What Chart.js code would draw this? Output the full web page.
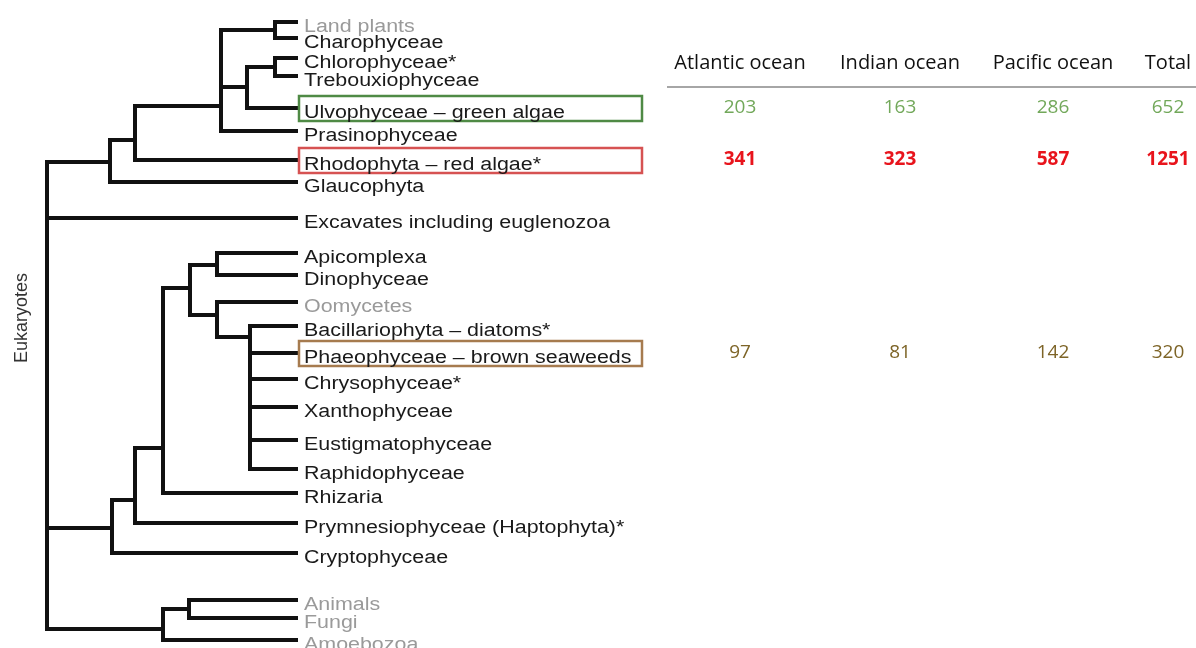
<!DOCTYPE html>
<html>
<head>
<meta charset="utf-8">
<script src="https://cdn.jsdelivr.net/npm/chart.js@4/dist/chart.umd.min.js"></script>
<style>
  html, body { margin: 0; padding: 0; background: #fff; }
  #arbre { display: block; }
</style>
</head>
<body>
<canvas id="arbre" width="1196" height="648"></canvas>
<script>
// Feuilles de l'arbre (ordre de haut en bas)
const leafNames = ['Land plants', 'Charophyceae', 'Chlorophyceae*', 'Trebouxiophyceae',
  'Ulvophyceae – green algae', 'Prasinophyceae', 'Rhodophyta – red algae*', 'Glaucophyta',
  'Excavates including euglenozoa', 'Apicomplexa', 'Dinophyceae', 'Oomycetes',
  'Bacillariophyta – diatoms*', 'Phaeophyceae – brown seaweeds', 'Chrysophyceae*',
  'Xanthophyceae', 'Eustigmatophyceae', 'Raphidophyceae', 'Rhizaria',
  'Prymnesiophyceae (Haptophyta)*', 'Cryptophyceae', 'Animals', 'Fungi', 'Amoebozoa'];
const leafY = [22, 38, 58, 76, 108, 131, 160, 182, 218, 253, 275, 302, 326, 353, 379, 407, 440, 469, 493, 523, 553, 600, 618, 640];
const leafParent = ['A4', 'A4', 'A6', 'A6', 'A5', 'A3', 'A2', 'A1', 'root', 'S5', 'S5', 'S6',
  'S7', 'S7', 'S7', 'S7', 'S7', 'S7', 'S3', 'S2', 'S1', 'O2', 'O2', 'O1'];
const leafTipX = 298;
const nonAlgae = ['Land plants', 'Oomycetes', 'Animals', 'Fungi', 'Amoebozoa'];

// Noeuds internes
const nodeNames = ['root', 'A1', 'A2', 'A3', 'A4', 'A5', 'A6', 'S1', 'S2', 'S3', 'S4', 'S5', 'S6', 'S7', 'O1', 'O2'];
const nodeX = [47, 110, 135, 221, 275, 247, 275, 112, 135, 163, 190, 217, 217, 250, 163, 189];
const nodeY = [400, 162, 140, 106, 30, 87, 67, 528, 500, 448, 288, 265, 315, 337, 629, 609];
const nodeParent = [null, 'root', 'A1', 'A2', 'A3', 'A3', 'A5', 'root', 'S1', 'S2', 'S3', 'S4', 'S4', 'S6', 'root', 'O1'];

// Tableau
const oceans = ['Atlantic ocean', 'Indian ocean', 'Pacific ocean', 'Total'];
const greenAlgaeCounts = [203, 163, 286, 652];
const redAlgaeCounts = [341, 323, 587, 1251];
const brownSeaweedCounts = [97, 81, 142, 320];
const highlighted = ['Ulvophyceae – green algae', 'Rhodophyta – red algae*', 'Phaeophyceae – brown seaweeds'];

// mise en page / styles
const columnCenters = [740, 900, 1053, 1168];
const rowStyles = [
  { box: '#4f8a45', text: '#72a85a', weight: 'normal' },
  { box: '#d65252', text: '#e8141c', weight: 'bold' },
  { box: '#a67b4f', text: '#7d6427', weight: 'normal' }
];
const rowCounts = [greenAlgaeCounts, redAlgaeCounts, brownSeaweedCounts];

function nodeIndex(name) {
  return nodeNames.indexOf(name);
}

// Une branche = coude (parent.x, parent.y) -> (parent.x, enfant.y) -> (enfant.x, enfant.y)
function elbow(parentName, cx, cy) {
  const p = nodeIndex(parentName);
  return [
    { x: nodeX[p], y: nodeY[p] },
    { x: nodeX[p], y: cy },
    { x: cx, y: cy }
  ];
}

const branches = [];
nodeNames.forEach((n, i) => {
  if (nodeParent[i]) branches.push(elbow(nodeParent[i], nodeX[i], nodeY[i]));
});
leafNames.forEach((n, i) => {
  branches.push(elbow(leafParent[i], leafTipX, leafY[i]));
});

const datasets = branches.map(b => ({
  data: b,
  showLine: true,
  borderColor: '#111',
  borderWidth: 4,
  pointRadius: 0,
  borderJoinStyle: 'miter',
  borderCapStyle: 'butt',
  tension: 0
}));

function stretchedText(c, txt, x, y, sx) {
  c.save();
  c.translate(x, y);
  c.scale(sx, 1);
  c.fillText(txt, 0, 0);
  c.restore();
}

const decorPlugin = {
  id: 'decor',
  beforeDraw(chart) {
    const c = chart.ctx;
    c.save();
    c.fillStyle = '#fff';
    c.fillRect(0, 0, chart.width, chart.height);
    c.restore();
  },
  afterDatasetsDraw(chart) {
    const c = chart.ctx;
    const xs = chart.scales.x;
    const ys = chart.scales.y;
    c.save();

    // encadrés
    highlighted.forEach((name, r) => {
      const yv = leafY[leafNames.indexOf(name)];
      const top = ys.getPixelForValue(yv - 12);
      const bot = ys.getPixelForValue(yv + 13);
      const left = xs.getPixelForValue(leafTipX + 1);
      const right = xs.getPixelForValue(642);
      c.strokeStyle = rowStyles[r].box;
      c.lineWidth = 2.5;
      c.strokeRect(left, top, right - left, bot - top);
    });

    // noms des feuilles
    c.font = '18px "Liberation Sans", Arial, sans-serif';
    c.textBaseline = 'alphabetic';
    c.textAlign = 'left';
    leafNames.forEach((name, i) => {
      c.fillStyle = nonAlgae.includes(name) ? '#9a9a9a' : '#1a1a1a';
      stretchedText(c, name, xs.getPixelForValue(leafTipX + 6), ys.getPixelForValue(leafY[i] + 10), 1.19);
    });

    // Eukaryotes
    c.save();
    c.translate(xs.getPixelForValue(22), ys.getPixelForValue(318));
    c.rotate(-Math.PI / 2);
    c.textAlign = 'center';
    c.textBaseline = 'middle';
    c.fillStyle = '#333';
    c.font = '18px "Liberation Sans", Arial, sans-serif';
    c.fillText('Eukaryotes', 0, 0);
    c.restore();

    // tableau
    c.textAlign = 'center';
    c.textBaseline = 'middle';
    c.fillStyle = '#111';
    c.font = '20px "Open Sans", sans-serif';
    oceans.forEach((o, j) => {
      c.fillText(o, xs.getPixelForValue(columnCenters[j]), ys.getPixelForValue(63));
    });
    c.strokeStyle = '#888';
    c.lineWidth = 1.5;
    c.beginPath();
    c.moveTo(xs.getPixelForValue(667), ys.getPixelForValue(87));
    c.lineTo(xs.getPixelForValue(1196), ys.getPixelForValue(87));
    c.stroke();

    highlighted.forEach((name, r) => {
      const yv = leafY[leafNames.indexOf(name)];
      c.fillStyle = rowStyles[r].text;
      c.font = rowStyles[r].weight + ' 19px "Open Sans", sans-serif';
      rowCounts[r].forEach((v, j) => {
        c.fillText(String(v), xs.getPixelForValue(columnCenters[j]), ys.getPixelForValue(yv));
      });
    });

    c.restore();
  }
};

const ctx = document.getElementById('arbre').getContext('2d');
const arbre = new Chart(ctx, {
  type: 'scatter',
  data: { datasets: datasets },
  options: {
    responsive: false,
    animation: false,
    layout: { padding: 0 },
    plugins: { legend: { display: false }, tooltip: { enabled: false } },
    scales: {
      x: { type: 'linear', min: 0, max: 1196, display: false },
      y: { type: 'linear', min: 0, max: 648, reverse: true, display: false }
    }
  },
  plugins: [decorPlugin]
});
</script>
</body>
</html>
